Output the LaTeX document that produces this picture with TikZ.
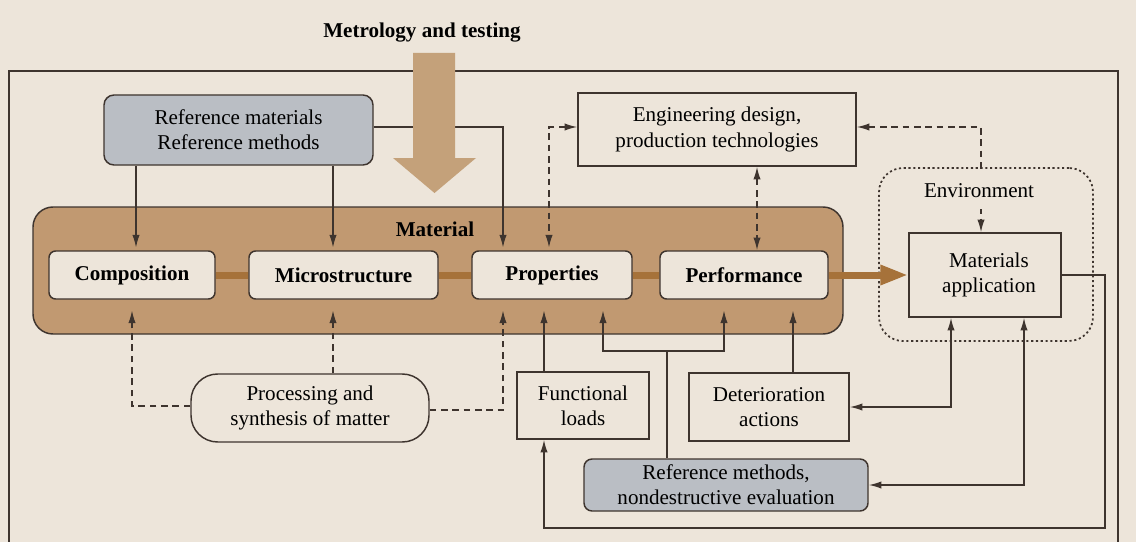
\documentclass[tikz,border=0pt]{standalone}
\usepackage{fontspec}
\setmainfont{Liberation Serif}
\usetikzlibrary{arrows.meta,calc}
\definecolor{bg}{RGB}{237,229,218}
\definecolor{matfill}{RGB}{193,153,113}
\definecolor{chain}{RGB}{166,114,58}
\definecolor{bigarrow}{RGB}{196,161,122}
\definecolor{refgray}{RGB}{186,190,196}
\definecolor{ink}{RGB}{62,52,46}
\begin{document}
\begin{tikzpicture}[x=0.75pt,y=-0.75pt,
  txt/.style={font=\fontsize{15.8}{19}\selectfont, align=center, inner sep=0pt},
  btxt/.style={font=\fontsize{15.8}{19}\selectfont\bfseries, align=center, inner sep=0pt},
  box/.style={txt, draw=ink, line width=1.1pt, fill=bg},
  bbox/.style={btxt, draw=ink, line width=1.1pt, fill=bg, rounded corners=5pt},
  gbox/.style={txt, draw=ink, line width=1.1pt, fill=refgray},
  conn/.style={draw=ink, line width=1.1pt},
  arr/.style={-{Latex[length=9.5pt,width=5.5pt]}},
  darr/.style={{Latex[length=9.5pt,width=5.5pt]}-{Latex[length=9.5pt,width=5.5pt]}},
  dsh/.style={dash pattern=on 5pt off 3.5pt},
  chainline/.style={draw=chain, line width=5.25pt}
]
\useasboundingbox (0,0) rectangle (1136,542);
\clip (0,0) rectangle (1136,542);
\fill[bg] (0,0) rectangle (1136,542);
\draw[ink, line width=1.1pt] (9,71) rectangle (1118,570);

\node[btxt] (metro) at (422,33) {Metrology and testing};

% lanes
\coordinate (xA) at (136,0);
\coordinate (xA2) at (132,0);
\coordinate (xM) at (333,0);
\coordinate (xP1) at (503,0);
\coordinate (xP2) at (549,0);
\coordinate (xF) at (544,0);
\coordinate (xQ) at (603,0);
\coordinate (xR) at (667,0);
\coordinate (xW) at (724,0);
\coordinate (xE) at (757,0);
\coordinate (xD) at (793,0);
\coordinate (xG) at (951,0);
\coordinate (xH) at (1024,0);
\coordinate (xJ) at (981,0);
\coordinate (xR2) at (1105,0);
\coordinate (yT) at (0,127);
\coordinate (yR) at (0,351);
\coordinate (yB) at (0,528);

% nodes
\node[gbox, rounded corners=7.5pt, minimum width=201.75pt, minimum height=52.5pt] (refmat) at (238.5,130) {Reference materials\\Reference methods};
\node[draw=ink, line width=1.1pt, fill=matfill, rounded corners=15pt, minimum width=607.5pt, minimum height=95.25pt, inner sep=0pt] (material) at (438,270.5) {};
\node[btxt] (matlabel) at (435,229) {Material};
\node[bbox, minimum width=124.5pt, minimum height=36pt] (comp) at (132,275) {Composition};
\node[bbox, minimum width=141.75pt, minimum height=36pt] (micro) at (343.5,275) {Microstructure};
\node[bbox, minimum width=120pt, minimum height=36pt] (prop) at (552,275) {Properties};
\node[bbox, minimum width=126pt, minimum height=36pt] (perf) at (744,275) {Performance};
\node[box, minimum width=208.5pt, minimum height=54.75pt] (eng) at (717,129.5) {Engineering design,\\production technologies};
\node[draw=ink, line width=1.3pt, dash pattern=on 1.6pt off 2pt, rounded corners=18pt, minimum width=160.5pt, minimum height=129.75pt, inner sep=0pt] (env) at (986,254.5) {};
\node[box, minimum width=114pt, minimum height=63pt] (matapp) at (985,275) {\hspace*{6pt}Materials\\\hspace*{6pt}application};
\node[box, rounded corners=20pt, minimum width=178.5pt, minimum height=51pt] (proc) at (310,408) {Processing and\\synthesis of matter};
\node[box, minimum width=99pt, minimum height=50.25pt] (func) at (583,405.5) {Functional\\loads};
\node[box, minimum width=120pt, minimum height=51pt] (deter) at (769,407) {Deterioration\\actions};
\node[gbox, rounded corners=6pt, minimum width=213pt, minimum height=39pt] (refnde) at (726,485) {Reference methods,\\nondestructive evaluation};

% chain
\draw[chainline] (comp.east) -- (micro.west);
\draw[chainline] (micro.east) -- (prop.west);
\draw[chainline] (prop.east) -- (perf.west);
\draw[chainline, -{Triangle[length=21pt,width=14pt]}] (perf.east) -- (matapp.west);

% connectors from reference materials
\draw[conn,arr,shorten >=2pt] (refmat.south -| xA) -- (comp.north -| xA);
\draw[conn,arr,shorten >=2pt] (refmat.south -| xM) -- (micro.north -| xM);
\draw[conn,arr,shorten >=2pt] (refmat.east |- yT) -| (prop.north -| xP1);

% engineering design dashed links
\draw[conn,dsh,darr,shorten >=2pt] (eng.west |- yT) -| (prop.north -| xP2);
\draw[conn,dsh,darr] (eng.south -| xE) -- (perf.north -| xE);
\draw[conn,dsh,darr] (eng.east |- yT) -| (matapp.north -| xJ);
\node[txt, fill=bg, minimum height=27pt, inner xsep=2pt] (envtext) at (979,191) {Environment};

% processing
\draw[conn,dsh,arr,shorten >=8pt] ([yshift=1.5pt]proc.west) -| (xA2 |- comp.south);
\draw[conn,dsh,arr,shorten >=8pt] (proc.north -| xM) -- (micro.south -| xM);
\draw[conn,dsh,arr,shorten >=8pt] ([yshift=-1.5pt]proc.east) -| (prop.south -| xP1);

% functional loads
\draw[conn,arr,shorten >=8pt] (func.north -| xF) -- (prop.south -| xF);

% reference methods nde
\draw[conn] (refnde.north -| xR) -- (xR |- yR);
\draw[conn,darr,shorten <=8pt,shorten >=8pt] (prop.south -| xQ) -- (xQ |- yR) -- (xW |- yR) -- (perf.south -| xW);

% deterioration
\draw[conn,arr,shorten >=8pt] (deter.north -| xD) -- (perf.south -| xD);
\draw[conn,darr] (deter.east) -| (matapp.south -| xG);
\draw[conn,darr] (refnde.east) -| (matapp.south -| xH);

% materials application loop to functional loads
\draw[conn,arr] (matapp.east) -- (xR2 |- matapp.east) -- (xR2 |- yB) -- (xF |- yB) -- (func.south -| xF);

% big arrow
\fill[bigarrow] (413,53) -- (455,53) -- (455,158) -- (476,158) -- (434.5,193) -- (393,158) -- (413,158) -- cycle;
\end{tikzpicture}
\end{document}
